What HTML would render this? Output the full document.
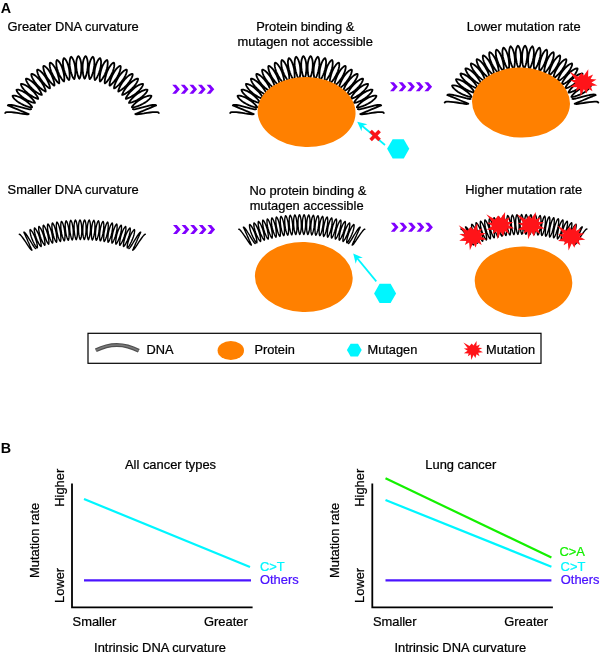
<!DOCTYPE html>
<html><head><meta charset="utf-8"><title>Figure</title>
<style>
html,body{margin:0;padding:0;background:#fff;}
svg{display:block;}
text{font-family:"Liberation Sans",sans-serif;stroke:#000;stroke-width:0.24px;}
</style></head>
<body>
<svg width="600" height="656" viewBox="0 0 600 656">
<rect width="600" height="656" fill="#fff"/>
<text transform="translate(0.8,13.4) scale(0.97,1)" font-size="14.8" font-weight="bold" style="stroke-width:0">A</text>
<text x="7.6" y="31.1" font-size="12.9">Greater DNA curvature</text>
<text x="305.3" y="31.2" font-size="12.9" text-anchor="middle">Protein binding &amp;</text>
<text x="305.2" y="45.6" font-size="12.9" text-anchor="middle">mutagen not accessible</text>
<text x="523.6" y="31.2" font-size="12.9" text-anchor="middle">Lower mutation rate</text>
<text x="7.6" y="194.4" font-size="12.9">Smaller DNA curvature</text>
<text x="307.9" y="194.5" font-size="12.9" text-anchor="middle">No protein binding &amp;</text>
<text x="306.6" y="210" font-size="12.9" text-anchor="middle">mutagen accessible</text>
<text x="523.7" y="194.4" font-size="12.9" text-anchor="middle">Higher mutation rate</text>
<path d="M78.4,56.1L78.9,56.4L79.6,57.6L80.3,59.3L80.9,61.7L81.3,64.4L81.4,67.3L81.3,70.2L81.1,73.0L80.7,75.3L80.2,77.1L79.7,78.3L79.4,78.7L79.0,78.3L78.5,77.2L77.8,75.4L77.2,73.1L76.7,70.4L76.3,67.5L76.2,64.6L76.3,61.9L76.7,59.5L77.3,57.7L77.9,56.5Z M85.6,56.1L86.1,56.5L86.7,57.7L87.3,59.5L87.7,61.9L87.8,64.6L87.7,67.5L87.3,70.4L86.8,73.1L86.2,75.4L85.5,77.2L85.0,78.3L84.6,78.7L84.3,78.3L83.8,77.1L83.3,75.3L82.9,73.0L82.7,70.2L82.6,67.3L82.7,64.4L83.1,61.7L83.7,59.3L84.4,57.6L85.1,56.4Z M71.1,56.7L71.6,57.1L72.4,58.1L73.3,59.8L74.1,62.1L74.8,64.7L75.2,67.6L75.4,70.6L75.3,73.3L75.1,75.7L74.8,77.5L74.5,78.7L74.2,79.1L73.8,78.8L73.1,77.8L72.3,76.1L71.5,73.8L70.7,71.2L70.1,68.3L69.7,65.4L69.6,62.7L69.8,60.3L70.2,58.4L70.7,57.2Z M92.9,56.7L93.3,57.2L93.8,58.4L94.2,60.3L94.4,62.7L94.3,65.4L93.9,68.3L93.3,71.2L92.5,73.8L91.7,76.1L90.9,77.8L90.2,78.8L89.8,79.1L89.5,78.7L89.2,77.5L88.9,75.7L88.7,73.3L88.6,70.6L88.8,67.6L89.2,64.7L89.9,62.1L90.7,59.8L91.6,58.1L92.4,57.1Z M63.9,58.1L64.5,58.3L65.4,59.3L66.4,60.9L67.4,63.1L68.3,65.7L69.0,68.5L69.4,71.4L69.6,74.2L69.7,76.6L69.5,78.4L69.3,79.6L69.0,80.1L68.6,79.8L67.8,78.8L66.9,77.2L65.9,75.0L64.9,72.5L64.0,69.7L63.3,66.8L63.0,64.1L62.9,61.7L63.2,59.8L63.6,58.5Z M100.1,58.1L100.4,58.5L100.8,59.8L101.1,61.7L101.0,64.1L100.7,66.8L100.0,69.7L99.1,72.5L98.1,75.0L97.1,77.2L96.2,78.8L95.4,79.8L95.0,80.1L94.7,79.6L94.5,78.4L94.3,76.6L94.4,74.2L94.6,71.4L95.0,68.5L95.7,65.7L96.6,63.1L97.6,60.9L98.6,59.3L99.5,58.3Z M56.9,60.0L57.5,60.2L58.5,61.1L59.7,62.6L60.9,64.7L62.0,67.2L62.9,70.0L63.6,72.8L64.1,75.5L64.3,77.9L64.3,79.8L64.2,81.0L64.0,81.5L63.5,81.2L62.7,80.3L61.6,78.8L60.4,76.8L59.1,74.3L58.0,71.6L57.1,68.8L56.5,66.1L56.3,63.7L56.3,61.8L56.6,60.5Z M107.1,60.0L107.4,60.5L107.7,61.8L107.7,63.7L107.5,66.1L106.9,68.8L106.0,71.6L104.9,74.3L103.6,76.8L102.4,78.8L101.3,80.3L100.5,81.2L100.0,81.5L99.8,81.0L99.7,79.8L99.7,77.9L99.9,75.5L100.4,72.8L101.1,70.0L102.0,67.2L103.1,64.7L104.3,62.6L105.5,61.1L106.5,60.2Z M50.1,62.6L50.7,62.8L51.8,63.5L53.1,64.9L54.5,66.9L55.8,69.3L57.0,72.0L57.9,74.8L58.6,77.4L59.1,79.8L59.3,81.6L59.3,82.9L59.1,83.3L58.6,83.1L57.7,82.3L56.5,80.9L55.1,79.0L53.6,76.6L52.3,74.0L51.1,71.3L50.3,68.7L49.8,66.4L49.7,64.5L49.8,63.1Z M113.9,62.6L114.2,63.1L114.3,64.5L114.2,66.4L113.7,68.7L112.9,71.3L111.7,74.0L110.4,76.6L108.9,79.0L107.5,80.9L106.3,82.3L105.4,83.1L104.9,83.3L104.7,82.9L104.7,81.6L104.9,79.8L105.4,77.4L106.1,74.8L107.0,72.0L108.2,69.3L109.5,66.9L110.9,64.9L112.2,63.5L113.3,62.8Z M43.6,65.8L44.2,65.9L45.3,66.6L46.7,67.9L48.3,69.7L49.8,72.0L51.2,74.5L52.4,77.2L53.4,79.8L54.1,82.1L54.4,83.9L54.5,85.1L54.4,85.6L53.9,85.5L52.9,84.7L51.6,83.4L50.0,81.6L48.3,79.4L46.7,77.0L45.4,74.4L44.3,71.9L43.6,69.6L43.3,67.7L43.3,66.4Z M120.4,65.8L120.7,66.4L120.7,67.7L120.4,69.6L119.7,71.9L118.6,74.4L117.3,77.0L115.7,79.4L114.0,81.6L112.4,83.4L111.1,84.7L110.1,85.5L109.6,85.6L109.5,85.1L109.6,83.9L109.9,82.1L110.6,79.8L111.6,77.2L112.8,74.5L114.2,72.0L115.7,69.7L117.3,67.9L118.7,66.6L119.8,65.9Z M37.3,69.6L37.9,69.6L39.1,70.2L40.7,71.3L42.4,73.0L44.1,75.1L45.8,77.6L47.2,80.1L48.4,82.6L49.3,84.8L49.8,86.6L50.0,87.8L49.9,88.4L49.4,88.2L48.3,87.6L46.9,86.4L45.2,84.8L43.3,82.7L41.5,80.4L39.9,78.0L38.6,75.6L37.7,73.3L37.2,71.5L37.1,70.2Z M126.7,69.6L126.9,70.2L126.8,71.5L126.3,73.3L125.4,75.6L124.1,78.0L122.5,80.4L120.7,82.7L118.8,84.8L117.1,86.4L115.7,87.6L114.6,88.2L114.1,88.4L114.0,87.8L114.2,86.6L114.7,84.8L115.6,82.6L116.8,80.1L118.2,77.6L119.9,75.1L121.6,73.0L123.3,71.3L124.9,70.2L126.1,69.6Z M31.5,73.9L32.1,73.9L33.3,74.4L35.0,75.4L36.8,76.9L38.7,78.8L40.6,81.1L42.3,83.5L43.7,85.9L44.7,88.0L45.4,89.7L45.7,90.9L45.7,91.5L45.2,91.4L44.1,90.8L42.5,89.8L40.6,88.3L38.6,86.5L36.6,84.3L34.8,82.0L33.3,79.8L32.2,77.6L31.5,75.8L31.3,74.5Z M132.5,73.9L132.7,74.5L132.5,75.8L131.8,77.6L130.7,79.8L129.2,82.0L127.4,84.3L125.4,86.5L123.4,88.3L121.5,89.8L119.9,90.8L118.8,91.4L118.3,91.5L118.3,90.9L118.6,89.7L119.3,88.0L120.3,85.9L121.7,83.5L123.4,81.1L125.3,78.8L127.2,76.9L129.0,75.4L130.7,74.4L131.9,73.9Z M26.0,78.7L26.6,78.7L27.9,79.0L29.6,79.9L31.6,81.2L33.7,83.0L35.8,85.1L37.6,87.3L39.2,89.6L40.5,91.6L41.3,93.3L41.8,94.4L41.8,94.9L41.3,94.9L40.1,94.5L38.5,93.6L36.5,92.3L34.3,90.6L32.1,88.7L30.1,86.5L28.3,84.4L27.1,82.4L26.3,80.6L25.9,79.3Z M138.0,78.7L138.1,79.3L137.7,80.6L136.9,82.4L135.7,84.4L133.9,86.5L131.9,88.7L129.7,90.6L127.5,92.3L125.5,93.6L123.9,94.5L122.7,94.9L122.2,94.9L122.2,94.4L122.7,93.3L123.5,91.6L124.8,89.6L126.4,87.3L128.2,85.1L130.3,83.0L132.4,81.2L134.4,79.9L136.1,79.0L137.4,78.7Z M21.0,84.0L21.6,83.9L22.9,84.2L24.7,84.8L26.8,86.0L29.1,87.6L31.3,89.5L33.4,91.5L35.2,93.6L36.6,95.5L37.6,97.1L38.1,98.2L38.2,98.8L37.7,98.8L36.5,98.4L34.8,97.7L32.7,96.6L30.3,95.1L28.0,93.4L25.8,91.5L23.9,89.5L22.4,87.6L21.4,85.9L21.0,84.7Z M143.0,84.0L143.0,84.7L142.6,85.9L141.6,87.6L140.1,89.5L138.2,91.5L136.0,93.4L133.7,95.1L131.3,96.6L129.2,97.7L127.5,98.4L126.3,98.8L125.8,98.8L125.9,98.2L126.4,97.1L127.4,95.5L128.8,93.6L130.6,91.5L132.7,89.5L134.9,87.6L137.2,86.0L139.3,84.8L141.1,84.2L142.4,83.9Z M16.5,89.8L17.1,89.6L18.5,89.7L20.3,90.3L22.5,91.2L24.9,92.6L27.3,94.3L29.5,96.1L31.5,98.0L33.1,99.8L34.2,101.3L34.9,102.4L35.0,102.9L34.5,102.9L33.2,102.7L31.5,102.1L29.3,101.2L26.8,100.0L24.3,98.4L21.9,96.7L19.9,94.9L18.2,93.2L17.1,91.6L16.6,90.4Z M147.5,89.8L147.4,90.4L146.9,91.6L145.8,93.2L144.1,94.9L142.1,96.7L139.7,98.4L137.2,100.0L134.7,101.2L132.5,102.1L130.8,102.7L129.5,102.9L129.0,102.9L129.1,102.4L129.8,101.3L130.9,99.8L132.5,98.0L134.5,96.1L136.7,94.3L139.1,92.6L141.5,91.2L143.7,90.3L145.5,89.7L146.9,89.6Z M12.6,95.9L13.2,95.7L14.5,95.7L16.4,96.0L18.7,96.8L21.2,97.9L23.7,99.4L26.1,101.1L28.3,102.8L30.0,104.4L31.3,105.8L32.0,106.8L32.1,107.3L31.6,107.4L30.4,107.3L28.6,106.8L26.3,106.1L23.7,105.1L21.1,103.8L18.6,102.4L16.4,100.7L14.6,99.1L13.3,97.7L12.7,96.5Z M151.4,95.9L151.3,96.5L150.7,97.7L149.4,99.1L147.6,100.7L145.4,102.4L142.9,103.8L140.3,105.1L137.7,106.1L135.4,106.8L133.6,107.3L132.4,107.4L131.9,107.3L132.0,106.8L132.7,105.8L134.0,104.4L135.7,102.8L137.9,101.1L140.3,99.4L142.8,97.9L145.3,96.8L147.6,96.0L149.5,95.7L150.8,95.7Z M158.8,113.0L158.3,112.4L157.0,112.1L155.1,112.1L152.7,112.2L149.9,112.5L146.9,112.9L144.0,113.4L141.2,113.8L138.9,114.2L137.0,114.4L135.8,114.3L135.2,114.0L135.6,113.9L136.6,113.5L138.3,112.8L140.5,111.9L143.0,110.9L145.7,109.7L148.4,108.6L150.9,107.6L153.1,106.7L154.7,106.0L155.8,105.6L156.2,105.5 M156.1,105.4L155.5,105.0L154.2,104.9L152.4,105.0L150.0,105.4L147.3,106.1L144.4,106.8L141.5,107.6L138.8,108.3L136.5,108.9L134.7,109.3L133.5,109.4L132.9,109.2 M5.2,113.0L5.7,112.4L7.0,112.1L8.9,112.1L11.3,112.2L14.1,112.5L17.1,112.9L20.0,113.4L22.8,113.8L25.1,114.2L27.0,114.4L28.2,114.3L28.8,114.0L28.4,113.9L27.4,113.5L25.7,112.8L23.5,111.9L21.0,110.9L18.3,109.7L15.6,108.6L13.1,107.6L10.9,106.7L9.3,106.0L8.2,105.6L7.8,105.5 M7.9,105.4L8.5,105.0L9.8,104.9L11.6,105.0L14.0,105.4L16.7,106.1L19.6,106.8L22.5,107.6L25.2,108.3L27.5,108.9L29.3,109.3L30.5,109.4L31.1,109.2" fill="none" stroke="#000" stroke-width="1.8" stroke-linejoin="round" stroke-linecap="round"/>
<polygon points="172.20,84.70 176.00,84.70 179.90,89.20 176.00,93.70 172.20,93.70 176.10,89.20" fill="#8000FF"/>
<polygon points="180.80,84.70 184.60,84.70 188.50,89.20 184.60,93.70 180.80,93.70 184.70,89.20" fill="#8000FF"/>
<polygon points="189.40,84.70 193.20,84.70 197.10,89.20 193.20,93.70 189.40,93.70 193.30,89.20" fill="#8000FF"/>
<polygon points="198.00,84.70 201.80,84.70 205.70,89.20 201.80,93.70 198.00,93.70 201.90,89.20" fill="#8000FF"/>
<polygon points="206.60,84.70 210.40,84.70 214.30,89.20 210.40,93.70 206.60,93.70 210.50,89.20" fill="#8000FF"/>
<g transform="translate(225,0)"><path d="M78.4,56.1L78.9,56.4L79.6,57.6L80.3,59.3L80.9,61.7L81.3,64.4L81.4,67.3L81.3,70.2L81.1,73.0L80.7,75.3L80.2,77.1L79.7,78.3L79.4,78.7L79.0,78.3L78.5,77.2L77.8,75.4L77.2,73.1L76.7,70.4L76.3,67.5L76.2,64.6L76.3,61.9L76.7,59.5L77.3,57.7L77.9,56.5Z M85.6,56.1L86.1,56.5L86.7,57.7L87.3,59.5L87.7,61.9L87.8,64.6L87.7,67.5L87.3,70.4L86.8,73.1L86.2,75.4L85.5,77.2L85.0,78.3L84.6,78.7L84.3,78.3L83.8,77.1L83.3,75.3L82.9,73.0L82.7,70.2L82.6,67.3L82.7,64.4L83.1,61.7L83.7,59.3L84.4,57.6L85.1,56.4Z M71.1,56.7L71.6,57.1L72.4,58.1L73.3,59.8L74.1,62.1L74.8,64.7L75.2,67.6L75.4,70.6L75.3,73.3L75.1,75.7L74.8,77.5L74.5,78.7L74.2,79.1L73.8,78.8L73.1,77.8L72.3,76.1L71.5,73.8L70.7,71.2L70.1,68.3L69.7,65.4L69.6,62.7L69.8,60.3L70.2,58.4L70.7,57.2Z M92.9,56.7L93.3,57.2L93.8,58.4L94.2,60.3L94.4,62.7L94.3,65.4L93.9,68.3L93.3,71.2L92.5,73.8L91.7,76.1L90.9,77.8L90.2,78.8L89.8,79.1L89.5,78.7L89.2,77.5L88.9,75.7L88.7,73.3L88.6,70.6L88.8,67.6L89.2,64.7L89.9,62.1L90.7,59.8L91.6,58.1L92.4,57.1Z M63.9,58.1L64.5,58.3L65.4,59.3L66.4,60.9L67.4,63.1L68.3,65.7L69.0,68.5L69.4,71.4L69.6,74.2L69.7,76.6L69.5,78.4L69.3,79.6L69.0,80.1L68.6,79.8L67.8,78.8L66.9,77.2L65.9,75.0L64.9,72.5L64.0,69.7L63.3,66.8L63.0,64.1L62.9,61.7L63.2,59.8L63.6,58.5Z M100.1,58.1L100.4,58.5L100.8,59.8L101.1,61.7L101.0,64.1L100.7,66.8L100.0,69.7L99.1,72.5L98.1,75.0L97.1,77.2L96.2,78.8L95.4,79.8L95.0,80.1L94.7,79.6L94.5,78.4L94.3,76.6L94.4,74.2L94.6,71.4L95.0,68.5L95.7,65.7L96.6,63.1L97.6,60.9L98.6,59.3L99.5,58.3Z M56.9,60.0L57.5,60.2L58.5,61.1L59.7,62.6L60.9,64.7L62.0,67.2L62.9,70.0L63.6,72.8L64.1,75.5L64.3,77.9L64.3,79.8L64.2,81.0L64.0,81.5L63.5,81.2L62.7,80.3L61.6,78.8L60.4,76.8L59.1,74.3L58.0,71.6L57.1,68.8L56.5,66.1L56.3,63.7L56.3,61.8L56.6,60.5Z M107.1,60.0L107.4,60.5L107.7,61.8L107.7,63.7L107.5,66.1L106.9,68.8L106.0,71.6L104.9,74.3L103.6,76.8L102.4,78.8L101.3,80.3L100.5,81.2L100.0,81.5L99.8,81.0L99.7,79.8L99.7,77.9L99.9,75.5L100.4,72.8L101.1,70.0L102.0,67.2L103.1,64.7L104.3,62.6L105.5,61.1L106.5,60.2Z M50.1,62.6L50.7,62.8L51.8,63.5L53.1,64.9L54.5,66.9L55.8,69.3L57.0,72.0L57.9,74.8L58.6,77.4L59.1,79.8L59.3,81.6L59.3,82.9L59.1,83.3L58.6,83.1L57.7,82.3L56.5,80.9L55.1,79.0L53.6,76.6L52.3,74.0L51.1,71.3L50.3,68.7L49.8,66.4L49.7,64.5L49.8,63.1Z M113.9,62.6L114.2,63.1L114.3,64.5L114.2,66.4L113.7,68.7L112.9,71.3L111.7,74.0L110.4,76.6L108.9,79.0L107.5,80.9L106.3,82.3L105.4,83.1L104.9,83.3L104.7,82.9L104.7,81.6L104.9,79.8L105.4,77.4L106.1,74.8L107.0,72.0L108.2,69.3L109.5,66.9L110.9,64.9L112.2,63.5L113.3,62.8Z M43.6,65.8L44.2,65.9L45.3,66.6L46.7,67.9L48.3,69.7L49.8,72.0L51.2,74.5L52.4,77.2L53.4,79.8L54.1,82.1L54.4,83.9L54.5,85.1L54.4,85.6L53.9,85.5L52.9,84.7L51.6,83.4L50.0,81.6L48.3,79.4L46.7,77.0L45.4,74.4L44.3,71.9L43.6,69.6L43.3,67.7L43.3,66.4Z M120.4,65.8L120.7,66.4L120.7,67.7L120.4,69.6L119.7,71.9L118.6,74.4L117.3,77.0L115.7,79.4L114.0,81.6L112.4,83.4L111.1,84.7L110.1,85.5L109.6,85.6L109.5,85.1L109.6,83.9L109.9,82.1L110.6,79.8L111.6,77.2L112.8,74.5L114.2,72.0L115.7,69.7L117.3,67.9L118.7,66.6L119.8,65.9Z M37.3,69.6L37.9,69.6L39.1,70.2L40.7,71.3L42.4,73.0L44.1,75.1L45.8,77.6L47.2,80.1L48.4,82.6L49.3,84.8L49.8,86.6L50.0,87.8L49.9,88.4L49.4,88.2L48.3,87.6L46.9,86.4L45.2,84.8L43.3,82.7L41.5,80.4L39.9,78.0L38.6,75.6L37.7,73.3L37.2,71.5L37.1,70.2Z M126.7,69.6L126.9,70.2L126.8,71.5L126.3,73.3L125.4,75.6L124.1,78.0L122.5,80.4L120.7,82.7L118.8,84.8L117.1,86.4L115.7,87.6L114.6,88.2L114.1,88.4L114.0,87.8L114.2,86.6L114.7,84.8L115.6,82.6L116.8,80.1L118.2,77.6L119.9,75.1L121.6,73.0L123.3,71.3L124.9,70.2L126.1,69.6Z M31.5,73.9L32.1,73.9L33.3,74.4L35.0,75.4L36.8,76.9L38.7,78.8L40.6,81.1L42.3,83.5L43.7,85.9L44.7,88.0L45.4,89.7L45.7,90.9L45.7,91.5L45.2,91.4L44.1,90.8L42.5,89.8L40.6,88.3L38.6,86.5L36.6,84.3L34.8,82.0L33.3,79.8L32.2,77.6L31.5,75.8L31.3,74.5Z M132.5,73.9L132.7,74.5L132.5,75.8L131.8,77.6L130.7,79.8L129.2,82.0L127.4,84.3L125.4,86.5L123.4,88.3L121.5,89.8L119.9,90.8L118.8,91.4L118.3,91.5L118.3,90.9L118.6,89.7L119.3,88.0L120.3,85.9L121.7,83.5L123.4,81.1L125.3,78.8L127.2,76.9L129.0,75.4L130.7,74.4L131.9,73.9Z M26.0,78.7L26.6,78.7L27.9,79.0L29.6,79.9L31.6,81.2L33.7,83.0L35.8,85.1L37.6,87.3L39.2,89.6L40.5,91.6L41.3,93.3L41.8,94.4L41.8,94.9L41.3,94.9L40.1,94.5L38.5,93.6L36.5,92.3L34.3,90.6L32.1,88.7L30.1,86.5L28.3,84.4L27.1,82.4L26.3,80.6L25.9,79.3Z M138.0,78.7L138.1,79.3L137.7,80.6L136.9,82.4L135.7,84.4L133.9,86.5L131.9,88.7L129.7,90.6L127.5,92.3L125.5,93.6L123.9,94.5L122.7,94.9L122.2,94.9L122.2,94.4L122.7,93.3L123.5,91.6L124.8,89.6L126.4,87.3L128.2,85.1L130.3,83.0L132.4,81.2L134.4,79.9L136.1,79.0L137.4,78.7Z M21.0,84.0L21.6,83.9L22.9,84.2L24.7,84.8L26.8,86.0L29.1,87.6L31.3,89.5L33.4,91.5L35.2,93.6L36.6,95.5L37.6,97.1L38.1,98.2L38.2,98.8L37.7,98.8L36.5,98.4L34.8,97.7L32.7,96.6L30.3,95.1L28.0,93.4L25.8,91.5L23.9,89.5L22.4,87.6L21.4,85.9L21.0,84.7Z M143.0,84.0L143.0,84.7L142.6,85.9L141.6,87.6L140.1,89.5L138.2,91.5L136.0,93.4L133.7,95.1L131.3,96.6L129.2,97.7L127.5,98.4L126.3,98.8L125.8,98.8L125.9,98.2L126.4,97.1L127.4,95.5L128.8,93.6L130.6,91.5L132.7,89.5L134.9,87.6L137.2,86.0L139.3,84.8L141.1,84.2L142.4,83.9Z M16.5,89.8L17.1,89.6L18.5,89.7L20.3,90.3L22.5,91.2L24.9,92.6L27.3,94.3L29.5,96.1L31.5,98.0L33.1,99.8L34.2,101.3L34.9,102.4L35.0,102.9L34.5,102.9L33.2,102.7L31.5,102.1L29.3,101.2L26.8,100.0L24.3,98.4L21.9,96.7L19.9,94.9L18.2,93.2L17.1,91.6L16.6,90.4Z M147.5,89.8L147.4,90.4L146.9,91.6L145.8,93.2L144.1,94.9L142.1,96.7L139.7,98.4L137.2,100.0L134.7,101.2L132.5,102.1L130.8,102.7L129.5,102.9L129.0,102.9L129.1,102.4L129.8,101.3L130.9,99.8L132.5,98.0L134.5,96.1L136.7,94.3L139.1,92.6L141.5,91.2L143.7,90.3L145.5,89.7L146.9,89.6Z M12.6,95.9L13.2,95.7L14.5,95.7L16.4,96.0L18.7,96.8L21.2,97.9L23.7,99.4L26.1,101.1L28.3,102.8L30.0,104.4L31.3,105.8L32.0,106.8L32.1,107.3L31.6,107.4L30.4,107.3L28.6,106.8L26.3,106.1L23.7,105.1L21.1,103.8L18.6,102.4L16.4,100.7L14.6,99.1L13.3,97.7L12.7,96.5Z M151.4,95.9L151.3,96.5L150.7,97.7L149.4,99.1L147.6,100.7L145.4,102.4L142.9,103.8L140.3,105.1L137.7,106.1L135.4,106.8L133.6,107.3L132.4,107.4L131.9,107.3L132.0,106.8L132.7,105.8L134.0,104.4L135.7,102.8L137.9,101.1L140.3,99.4L142.8,97.9L145.3,96.8L147.6,96.0L149.5,95.7L150.8,95.7Z M158.8,113.0L158.3,112.4L157.0,112.1L155.1,112.1L152.7,112.2L149.9,112.5L146.9,112.9L144.0,113.4L141.2,113.8L138.9,114.2L137.0,114.4L135.8,114.3L135.2,114.0L135.6,113.9L136.6,113.5L138.3,112.8L140.5,111.9L143.0,110.9L145.7,109.7L148.4,108.6L150.9,107.6L153.1,106.7L154.7,106.0L155.8,105.6L156.2,105.5 M156.1,105.4L155.5,105.0L154.2,104.9L152.4,105.0L150.0,105.4L147.3,106.1L144.4,106.8L141.5,107.6L138.8,108.3L136.5,108.9L134.7,109.3L133.5,109.4L132.9,109.2 M5.2,113.0L5.7,112.4L7.0,112.1L8.9,112.1L11.3,112.2L14.1,112.5L17.1,112.9L20.0,113.4L22.8,113.8L25.1,114.2L27.0,114.4L28.2,114.3L28.8,114.0L28.4,113.9L27.4,113.5L25.7,112.8L23.5,111.9L21.0,110.9L18.3,109.7L15.6,108.6L13.1,107.6L10.9,106.7L9.3,106.0L8.2,105.6L7.8,105.5 M7.9,105.4L8.5,105.0L9.8,104.9L11.6,105.0L14.0,105.4L16.7,106.1L19.6,106.8L22.5,107.6L25.2,108.3L27.5,108.9L29.3,109.3L30.5,109.4L31.1,109.2" fill="none" stroke="#000" stroke-width="1.8" stroke-linejoin="round" stroke-linecap="round"/></g>
<ellipse cx="306.6" cy="112" rx="49" ry="35" fill="#FF8000" transform="rotate(2 306.6 112)"/>
<polygon points="390.00,82.20 393.80,82.20 397.70,86.70 393.80,91.20 390.00,91.20 393.90,86.70" fill="#8000FF"/>
<polygon points="398.60,82.20 402.40,82.20 406.30,86.70 402.40,91.20 398.60,91.20 402.50,86.70" fill="#8000FF"/>
<polygon points="407.20,82.20 411.00,82.20 414.90,86.70 411.00,91.20 407.20,91.20 411.10,86.70" fill="#8000FF"/>
<polygon points="415.80,82.20 419.60,82.20 423.50,86.70 419.60,91.20 415.80,91.20 419.70,86.70" fill="#8000FF"/>
<polygon points="424.40,82.20 428.20,82.20 432.10,86.70 428.20,91.20 424.40,91.20 428.30,86.70" fill="#8000FF"/>
<g transform="translate(439.5,-10.4)"><path d="M78.4,56.1L78.9,56.4L79.6,57.6L80.3,59.3L80.9,61.7L81.3,64.4L81.4,67.3L81.3,70.2L81.1,73.0L80.7,75.3L80.2,77.1L79.7,78.3L79.4,78.7L79.0,78.3L78.5,77.2L77.8,75.4L77.2,73.1L76.7,70.4L76.3,67.5L76.2,64.6L76.3,61.9L76.7,59.5L77.3,57.7L77.9,56.5Z M85.6,56.1L86.1,56.5L86.7,57.7L87.3,59.5L87.7,61.9L87.8,64.6L87.7,67.5L87.3,70.4L86.8,73.1L86.2,75.4L85.5,77.2L85.0,78.3L84.6,78.7L84.3,78.3L83.8,77.1L83.3,75.3L82.9,73.0L82.7,70.2L82.6,67.3L82.7,64.4L83.1,61.7L83.7,59.3L84.4,57.6L85.1,56.4Z M71.1,56.7L71.6,57.1L72.4,58.1L73.3,59.8L74.1,62.1L74.8,64.7L75.2,67.6L75.4,70.6L75.3,73.3L75.1,75.7L74.8,77.5L74.5,78.7L74.2,79.1L73.8,78.8L73.1,77.8L72.3,76.1L71.5,73.8L70.7,71.2L70.1,68.3L69.7,65.4L69.6,62.7L69.8,60.3L70.2,58.4L70.7,57.2Z M92.9,56.7L93.3,57.2L93.8,58.4L94.2,60.3L94.4,62.7L94.3,65.4L93.9,68.3L93.3,71.2L92.5,73.8L91.7,76.1L90.9,77.8L90.2,78.8L89.8,79.1L89.5,78.7L89.2,77.5L88.9,75.7L88.7,73.3L88.6,70.6L88.8,67.6L89.2,64.7L89.9,62.1L90.7,59.8L91.6,58.1L92.4,57.1Z M63.9,58.1L64.5,58.3L65.4,59.3L66.4,60.9L67.4,63.1L68.3,65.7L69.0,68.5L69.4,71.4L69.6,74.2L69.7,76.6L69.5,78.4L69.3,79.6L69.0,80.1L68.6,79.8L67.8,78.8L66.9,77.2L65.9,75.0L64.9,72.5L64.0,69.7L63.3,66.8L63.0,64.1L62.9,61.7L63.2,59.8L63.6,58.5Z M100.1,58.1L100.4,58.5L100.8,59.8L101.1,61.7L101.0,64.1L100.7,66.8L100.0,69.7L99.1,72.5L98.1,75.0L97.1,77.2L96.2,78.8L95.4,79.8L95.0,80.1L94.7,79.6L94.5,78.4L94.3,76.6L94.4,74.2L94.6,71.4L95.0,68.5L95.7,65.7L96.6,63.1L97.6,60.9L98.6,59.3L99.5,58.3Z M56.9,60.0L57.5,60.2L58.5,61.1L59.7,62.6L60.9,64.7L62.0,67.2L62.9,70.0L63.6,72.8L64.1,75.5L64.3,77.9L64.3,79.8L64.2,81.0L64.0,81.5L63.5,81.2L62.7,80.3L61.6,78.8L60.4,76.8L59.1,74.3L58.0,71.6L57.1,68.8L56.5,66.1L56.3,63.7L56.3,61.8L56.6,60.5Z M107.1,60.0L107.4,60.5L107.7,61.8L107.7,63.7L107.5,66.1L106.9,68.8L106.0,71.6L104.9,74.3L103.6,76.8L102.4,78.8L101.3,80.3L100.5,81.2L100.0,81.5L99.8,81.0L99.7,79.8L99.7,77.9L99.9,75.5L100.4,72.8L101.1,70.0L102.0,67.2L103.1,64.7L104.3,62.6L105.5,61.1L106.5,60.2Z M50.1,62.6L50.7,62.8L51.8,63.5L53.1,64.9L54.5,66.9L55.8,69.3L57.0,72.0L57.9,74.8L58.6,77.4L59.1,79.8L59.3,81.6L59.3,82.9L59.1,83.3L58.6,83.1L57.7,82.3L56.5,80.9L55.1,79.0L53.6,76.6L52.3,74.0L51.1,71.3L50.3,68.7L49.8,66.4L49.7,64.5L49.8,63.1Z M113.9,62.6L114.2,63.1L114.3,64.5L114.2,66.4L113.7,68.7L112.9,71.3L111.7,74.0L110.4,76.6L108.9,79.0L107.5,80.9L106.3,82.3L105.4,83.1L104.9,83.3L104.7,82.9L104.7,81.6L104.9,79.8L105.4,77.4L106.1,74.8L107.0,72.0L108.2,69.3L109.5,66.9L110.9,64.9L112.2,63.5L113.3,62.8Z M43.6,65.8L44.2,65.9L45.3,66.6L46.7,67.9L48.3,69.7L49.8,72.0L51.2,74.5L52.4,77.2L53.4,79.8L54.1,82.1L54.4,83.9L54.5,85.1L54.4,85.6L53.9,85.5L52.9,84.7L51.6,83.4L50.0,81.6L48.3,79.4L46.7,77.0L45.4,74.4L44.3,71.9L43.6,69.6L43.3,67.7L43.3,66.4Z M120.4,65.8L120.7,66.4L120.7,67.7L120.4,69.6L119.7,71.9L118.6,74.4L117.3,77.0L115.7,79.4L114.0,81.6L112.4,83.4L111.1,84.7L110.1,85.5L109.6,85.6L109.5,85.1L109.6,83.9L109.9,82.1L110.6,79.8L111.6,77.2L112.8,74.5L114.2,72.0L115.7,69.7L117.3,67.9L118.7,66.6L119.8,65.9Z M37.3,69.6L37.9,69.6L39.1,70.2L40.7,71.3L42.4,73.0L44.1,75.1L45.8,77.6L47.2,80.1L48.4,82.6L49.3,84.8L49.8,86.6L50.0,87.8L49.9,88.4L49.4,88.2L48.3,87.6L46.9,86.4L45.2,84.8L43.3,82.7L41.5,80.4L39.9,78.0L38.6,75.6L37.7,73.3L37.2,71.5L37.1,70.2Z M126.7,69.6L126.9,70.2L126.8,71.5L126.3,73.3L125.4,75.6L124.1,78.0L122.5,80.4L120.7,82.7L118.8,84.8L117.1,86.4L115.7,87.6L114.6,88.2L114.1,88.4L114.0,87.8L114.2,86.6L114.7,84.8L115.6,82.6L116.8,80.1L118.2,77.6L119.9,75.1L121.6,73.0L123.3,71.3L124.9,70.2L126.1,69.6Z M31.5,73.9L32.1,73.9L33.3,74.4L35.0,75.4L36.8,76.9L38.7,78.8L40.6,81.1L42.3,83.5L43.7,85.9L44.7,88.0L45.4,89.7L45.7,90.9L45.7,91.5L45.2,91.4L44.1,90.8L42.5,89.8L40.6,88.3L38.6,86.5L36.6,84.3L34.8,82.0L33.3,79.8L32.2,77.6L31.5,75.8L31.3,74.5Z M132.5,73.9L132.7,74.5L132.5,75.8L131.8,77.6L130.7,79.8L129.2,82.0L127.4,84.3L125.4,86.5L123.4,88.3L121.5,89.8L119.9,90.8L118.8,91.4L118.3,91.5L118.3,90.9L118.6,89.7L119.3,88.0L120.3,85.9L121.7,83.5L123.4,81.1L125.3,78.8L127.2,76.9L129.0,75.4L130.7,74.4L131.9,73.9Z M26.0,78.7L26.6,78.7L27.9,79.0L29.6,79.9L31.6,81.2L33.7,83.0L35.8,85.1L37.6,87.3L39.2,89.6L40.5,91.6L41.3,93.3L41.8,94.4L41.8,94.9L41.3,94.9L40.1,94.5L38.5,93.6L36.5,92.3L34.3,90.6L32.1,88.7L30.1,86.5L28.3,84.4L27.1,82.4L26.3,80.6L25.9,79.3Z M138.0,78.7L138.1,79.3L137.7,80.6L136.9,82.4L135.7,84.4L133.9,86.5L131.9,88.7L129.7,90.6L127.5,92.3L125.5,93.6L123.9,94.5L122.7,94.9L122.2,94.9L122.2,94.4L122.7,93.3L123.5,91.6L124.8,89.6L126.4,87.3L128.2,85.1L130.3,83.0L132.4,81.2L134.4,79.9L136.1,79.0L137.4,78.7Z M21.0,84.0L21.6,83.9L22.9,84.2L24.7,84.8L26.8,86.0L29.1,87.6L31.3,89.5L33.4,91.5L35.2,93.6L36.6,95.5L37.6,97.1L38.1,98.2L38.2,98.8L37.7,98.8L36.5,98.4L34.8,97.7L32.7,96.6L30.3,95.1L28.0,93.4L25.8,91.5L23.9,89.5L22.4,87.6L21.4,85.9L21.0,84.7Z M143.0,84.0L143.0,84.7L142.6,85.9L141.6,87.6L140.1,89.5L138.2,91.5L136.0,93.4L133.7,95.1L131.3,96.6L129.2,97.7L127.5,98.4L126.3,98.8L125.8,98.8L125.9,98.2L126.4,97.1L127.4,95.5L128.8,93.6L130.6,91.5L132.7,89.5L134.9,87.6L137.2,86.0L139.3,84.8L141.1,84.2L142.4,83.9Z M16.5,89.8L17.1,89.6L18.5,89.7L20.3,90.3L22.5,91.2L24.9,92.6L27.3,94.3L29.5,96.1L31.5,98.0L33.1,99.8L34.2,101.3L34.9,102.4L35.0,102.9L34.5,102.9L33.2,102.7L31.5,102.1L29.3,101.2L26.8,100.0L24.3,98.4L21.9,96.7L19.9,94.9L18.2,93.2L17.1,91.6L16.6,90.4Z M147.5,89.8L147.4,90.4L146.9,91.6L145.8,93.2L144.1,94.9L142.1,96.7L139.7,98.4L137.2,100.0L134.7,101.2L132.5,102.1L130.8,102.7L129.5,102.9L129.0,102.9L129.1,102.4L129.8,101.3L130.9,99.8L132.5,98.0L134.5,96.1L136.7,94.3L139.1,92.6L141.5,91.2L143.7,90.3L145.5,89.7L146.9,89.6Z M12.6,95.9L13.2,95.7L14.5,95.7L16.4,96.0L18.7,96.8L21.2,97.9L23.7,99.4L26.1,101.1L28.3,102.8L30.0,104.4L31.3,105.8L32.0,106.8L32.1,107.3L31.6,107.4L30.4,107.3L28.6,106.8L26.3,106.1L23.7,105.1L21.1,103.8L18.6,102.4L16.4,100.7L14.6,99.1L13.3,97.7L12.7,96.5Z M151.4,95.9L151.3,96.5L150.7,97.7L149.4,99.1L147.6,100.7L145.4,102.4L142.9,103.8L140.3,105.1L137.7,106.1L135.4,106.8L133.6,107.3L132.4,107.4L131.9,107.3L132.0,106.8L132.7,105.8L134.0,104.4L135.7,102.8L137.9,101.1L140.3,99.4L142.8,97.9L145.3,96.8L147.6,96.0L149.5,95.7L150.8,95.7Z M158.8,113.0L158.3,112.4L157.0,112.1L155.1,112.1L152.7,112.2L149.9,112.5L146.9,112.9L144.0,113.4L141.2,113.8L138.9,114.2L137.0,114.4L135.8,114.3L135.2,114.0L135.6,113.9L136.6,113.5L138.3,112.8L140.5,111.9L143.0,110.9L145.7,109.7L148.4,108.6L150.9,107.6L153.1,106.7L154.7,106.0L155.8,105.6L156.2,105.5 M156.1,105.4L155.5,105.0L154.2,104.9L152.4,105.0L150.0,105.4L147.3,106.1L144.4,106.8L141.5,107.6L138.8,108.3L136.5,108.9L134.7,109.3L133.5,109.4L132.9,109.2 M5.2,113.0L5.7,112.4L7.0,112.1L8.9,112.1L11.3,112.2L14.1,112.5L17.1,112.9L20.0,113.4L22.8,113.8L25.1,114.2L27.0,114.4L28.2,114.3L28.8,114.0L28.4,113.9L27.4,113.5L25.7,112.8L23.5,111.9L21.0,110.9L18.3,109.7L15.6,108.6L13.1,107.6L10.9,106.7L9.3,106.0L8.2,105.6L7.8,105.5 M7.9,105.4L8.5,105.0L9.8,104.9L11.6,105.0L14.0,105.4L16.7,106.1L19.6,106.8L22.5,107.6L25.2,108.3L27.5,108.9L29.3,109.3L30.5,109.4L31.1,109.2" fill="none" stroke="#000" stroke-width="1.8" stroke-linejoin="round" stroke-linecap="round"/></g>
<ellipse cx="521" cy="102.6" rx="49" ry="35" fill="#FF8000" transform="rotate(2 521 102.6)"/>
<polygon points="581.4,72.9 583.9,75.6 588.3,69.2 588.1,76.7 593.1,74.5 590.6,79.0 596.5,79.5 591.5,82.4 597.4,85.6 590.6,86.1 592.5,91.2 588.1,88.4 586.5,93.6 583.9,89.2 580.7,96.5 579.9,88.7 575.7,91.2 577.1,87.3 570.1,87.0 575.4,83.3 570.1,80.1 575.7,79.9 569.5,71.5 578.2,76.7" fill="#FF1419"/>
<line x1="385.00" y1="145.00" x2="361.42" y2="125.23" stroke="#00F6FF" stroke-width="1.7"/><polygon points="357.20,121.70 367.44,124.28 362.18,125.88 361.53,131.33" fill="#00F6FF"/>
<polygon points="409.30,148.80 403.75,158.41 392.65,158.41 387.10,148.80 392.65,139.19 403.75,139.19" fill="#00F6FF"/>
<g stroke="#FA1419" stroke-width="3.6"><line x1="370.6" y1="130.9" x2="379.6" y2="139.9"/><line x1="379.6" y1="130.9" x2="370.6" y2="139.9"/></g>
<path d="M80.0,219.9L80.3,220.2L80.7,221.2L81.1,222.7L81.5,224.8L81.7,227.2L81.8,229.7L81.8,232.3L81.6,234.6L81.3,236.7L80.9,238.2L80.5,239.2L80.3,239.6L80.0,239.2L79.7,238.3L79.3,236.7L78.9,234.7L78.6,232.3L78.5,229.8L78.5,227.2L78.6,224.8L78.9,222.8L79.3,221.2L79.7,220.2Z M84.6,219.9L84.9,220.2L85.3,221.2L85.7,222.8L86.0,224.8L86.1,227.2L86.1,229.8L86.0,232.3L85.7,234.7L85.3,236.7L84.9,238.3L84.6,239.2L84.3,239.6L84.1,239.2L83.7,238.2L83.3,236.7L83.0,234.6L82.8,232.3L82.8,229.7L82.9,227.2L83.1,224.8L83.5,222.7L83.9,221.2L84.3,220.2Z M75.3,220.0L75.7,220.3L76.1,221.3L76.6,222.8L77.0,224.9L77.3,227.2L77.5,229.8L77.5,232.3L77.4,234.7L77.2,236.8L76.8,238.3L76.5,239.3L76.3,239.7L76.0,239.4L75.6,238.4L75.2,236.9L74.7,234.8L74.4,232.5L74.1,229.9L74.1,227.4L74.1,225.0L74.4,223.0L74.7,221.4L75.1,220.4Z M89.3,220.0L89.5,220.4L89.9,221.4L90.2,223.0L90.5,225.0L90.5,227.4L90.5,229.9L90.2,232.5L89.9,234.8L89.4,236.9L89.0,238.4L88.6,239.4L88.3,239.7L88.1,239.3L87.8,238.3L87.4,236.8L87.2,234.7L87.1,232.3L87.1,229.8L87.3,227.2L87.6,224.9L88.0,222.8L88.5,221.3L88.9,220.3Z M70.7,220.3L71.0,220.6L71.5,221.6L72.1,223.1L72.5,225.1L72.9,227.5L73.2,230.0L73.3,232.6L73.2,234.9L73.1,237.0L72.8,238.6L72.5,239.6L72.3,240.0L72.0,239.6L71.6,238.7L71.1,237.2L70.6,235.2L70.1,232.8L69.8,230.3L69.7,227.7L69.7,225.3L69.8,223.3L70.1,221.7L70.5,220.7Z M93.9,220.3L94.1,220.7L94.5,221.7L94.8,223.3L94.9,225.3L94.9,227.7L94.8,230.3L94.5,232.8L94.0,235.2L93.5,237.2L93.0,238.7L92.6,239.6L92.3,240.0L92.1,239.6L91.8,238.6L91.5,237.0L91.4,234.9L91.3,232.6L91.4,230.0L91.7,227.5L92.1,225.1L92.5,223.1L93.1,221.6L93.6,220.6Z M66.1,220.8L66.4,221.1L67.0,222.0L67.5,223.5L68.1,225.5L68.6,227.8L68.9,230.4L69.1,232.9L69.1,235.3L69.0,237.4L68.8,239.0L68.5,240.0L68.3,240.3L68.0,240.0L67.5,239.1L67.0,237.6L66.4,235.6L65.9,233.3L65.5,230.7L65.3,228.2L65.2,225.8L65.3,223.8L65.6,222.2L65.9,221.1Z M98.5,220.8L98.7,221.1L99.0,222.2L99.3,223.8L99.4,225.8L99.3,228.2L99.1,230.7L98.7,233.3L98.2,235.6L97.6,237.6L97.1,239.1L96.6,240.0L96.3,240.3L96.1,240.0L95.8,239.0L95.6,237.4L95.5,235.3L95.5,232.9L95.7,230.4L96.0,227.8L96.5,225.5L97.1,223.5L97.6,222.0L98.2,221.1Z M61.5,221.4L61.8,221.6L62.4,222.6L63.0,224.1L63.6,226.0L64.2,228.4L64.6,230.9L64.9,233.4L65.0,235.8L64.9,237.9L64.8,239.5L64.5,240.5L64.3,240.8L64.0,240.6L63.5,239.6L62.9,238.1L62.3,236.2L61.7,233.9L61.3,231.4L60.9,228.8L60.8,226.4L60.8,224.4L61.0,222.8L61.3,221.7Z M103.1,221.4L103.3,221.7L103.6,222.8L103.8,224.4L103.8,226.4L103.7,228.8L103.3,231.4L102.9,233.9L102.3,236.2L101.7,238.1L101.1,239.6L100.6,240.6L100.3,240.8L100.1,240.5L99.8,239.5L99.7,237.9L99.6,235.8L99.7,233.4L100.0,230.9L100.4,228.4L101.0,226.0L101.6,224.1L102.2,222.6L102.8,221.6Z M56.9,222.1L57.3,222.4L57.9,223.3L58.5,224.7L59.2,226.7L59.8,229.0L60.3,231.5L60.7,234.0L60.8,236.4L60.9,238.5L60.8,240.1L60.6,241.1L60.4,241.5L60.1,241.2L59.5,240.3L58.9,238.8L58.2,236.9L57.6,234.6L57.0,232.1L56.6,229.6L56.4,227.2L56.3,225.1L56.5,223.5L56.7,222.5Z M107.7,222.1L107.9,222.5L108.1,223.5L108.3,225.1L108.2,227.2L108.0,229.6L107.6,232.1L107.0,234.6L106.4,236.9L105.7,238.8L105.1,240.3L104.5,241.2L104.2,241.5L104.0,241.1L103.8,240.1L103.7,238.5L103.8,236.4L103.9,234.0L104.3,231.5L104.8,229.0L105.4,226.7L106.1,224.7L106.7,223.3L107.3,222.4Z M52.4,223.0L52.7,223.2L53.3,224.1L54.1,225.6L54.8,227.5L55.5,229.8L56.1,232.3L56.5,234.8L56.7,237.2L56.8,239.2L56.8,240.8L56.6,241.9L56.5,242.3L56.1,242.0L55.6,241.1L54.9,239.6L54.1,237.7L53.4,235.4L52.8,233.0L52.3,230.5L52.0,228.1L51.9,226.0L52.0,224.4L52.2,223.4Z M112.2,223.0L112.4,223.4L112.6,224.4L112.7,226.0L112.6,228.1L112.3,230.5L111.8,233.0L111.2,235.4L110.5,237.7L109.7,239.6L109.0,241.1L108.5,242.0L108.1,242.3L108.0,241.9L107.8,240.8L107.8,239.2L107.9,237.2L108.1,234.8L108.5,232.3L109.1,229.8L109.8,227.5L110.5,225.6L111.3,224.1L111.9,223.2Z M47.9,224.0L48.2,224.3L48.9,225.1L49.6,226.6L50.4,228.5L51.2,230.7L51.8,233.2L52.3,235.7L52.7,238.1L52.8,240.1L52.8,241.7L52.7,242.8L52.6,243.1L52.2,242.9L51.6,242.0L50.9,240.6L50.1,238.7L49.3,236.4L48.6,234.0L48.0,231.5L47.6,229.1L47.5,227.1L47.5,225.5L47.7,224.4Z M116.7,224.0L116.9,224.4L117.1,225.5L117.1,227.1L117.0,229.1L116.6,231.5L116.0,234.0L115.3,236.4L114.5,238.7L113.7,240.6L113.0,242.0L112.4,242.9L112.0,243.1L111.9,242.8L111.8,241.7L111.8,240.1L111.9,238.1L112.3,235.7L112.8,233.2L113.4,230.7L114.2,228.5L115.0,226.6L115.7,225.1L116.4,224.3Z M43.4,225.2L43.7,225.4L44.4,226.3L45.2,227.7L46.1,229.6L46.9,231.8L47.7,234.2L48.2,236.7L48.6,239.1L48.9,241.1L48.9,242.7L48.8,243.8L48.7,244.2L48.3,243.9L47.7,243.1L46.9,241.7L46.1,239.8L45.2,237.6L44.4,235.1L43.8,232.7L43.3,230.3L43.1,228.3L43.1,226.7L43.2,225.6Z M121.2,225.2L121.4,225.6L121.5,226.7L121.5,228.3L121.3,230.3L120.8,232.7L120.2,235.1L119.4,237.6L118.5,239.8L117.7,241.7L116.9,243.1L116.3,243.9L115.9,244.2L115.8,243.8L115.7,242.7L115.7,241.1L116.0,239.1L116.4,236.7L116.9,234.2L117.7,231.8L118.5,229.6L119.4,227.7L120.2,226.3L120.9,225.4Z M38.9,226.5L39.3,226.7L40.0,227.6L40.9,228.9L41.8,230.8L42.7,233.0L43.5,235.4L44.2,237.9L44.6,240.2L44.9,242.3L45.0,243.9L45.0,244.9L44.8,245.3L44.5,245.1L43.9,244.2L43.0,242.9L42.1,241.0L41.1,238.8L40.3,236.4L39.6,234.0L39.0,231.6L38.7,229.6L38.7,228.0L38.8,226.9Z M125.7,226.5L125.8,226.9L125.9,228.0L125.9,229.6L125.6,231.6L125.0,234.0L124.3,236.4L123.5,238.8L122.5,241.0L121.6,242.9L120.7,244.2L120.1,245.1L119.8,245.3L119.6,244.9L119.6,243.9L119.7,242.3L120.0,240.2L120.4,237.9L121.1,235.4L121.9,233.0L122.8,230.8L123.7,228.9L124.6,227.6L125.3,226.7Z M34.5,228.0L34.9,228.2L35.6,229.0L36.5,230.3L37.5,232.2L38.5,234.3L39.4,236.7L40.1,239.2L40.7,241.5L41.0,243.5L41.2,245.1L41.2,246.2L41.0,246.6L40.7,246.3L40.0,245.5L39.1,244.2L38.2,242.4L37.1,240.2L36.2,237.8L35.4,235.4L34.8,233.1L34.4,231.1L34.3,229.5L34.4,228.4Z M130.1,228.0L130.2,228.4L130.3,229.5L130.2,231.1L129.8,233.1L129.2,235.4L128.4,237.8L127.5,240.2L126.4,242.4L125.5,244.2L124.6,245.5L123.9,246.3L123.6,246.6L123.4,246.2L123.4,245.1L123.6,243.5L123.9,241.5L124.5,239.2L125.2,236.7L126.1,234.3L127.1,232.2L128.1,230.3L129.0,229.0L129.7,228.2Z M30.2,229.6L30.6,229.8L31.3,230.6L32.3,231.9L33.3,233.7L34.3,235.8L35.3,238.2L36.1,240.6L36.8,242.9L37.2,244.9L37.4,246.5L37.4,247.5L37.3,247.9L36.9,247.7L36.2,246.9L35.3,245.6L34.3,243.8L33.2,241.7L32.2,239.4L31.3,237.0L30.6,234.7L30.2,232.7L30.0,231.1L30.0,230.0Z M134.4,229.6L134.6,230.0L134.6,231.1L134.4,232.7L134.0,234.7L133.3,237.0L132.4,239.4L131.4,241.7L130.3,243.8L129.3,245.6L128.4,246.9L127.7,247.7L127.3,247.9L127.2,247.5L127.2,246.5L127.4,244.9L127.8,242.9L128.5,240.6L129.3,238.2L130.3,235.8L131.3,233.7L132.3,231.9L133.3,230.6L134.0,229.8Z M145.3,234.3L144.8,234.4L144.0,235.1L142.9,236.4L141.7,238.0L140.3,240.0L138.8,242.1L137.4,244.3L136.1,246.3L134.9,248.0L133.9,249.3L133.1,250.0L132.7,250.2L132.8,249.8L133.2,249.0L133.8,247.5L134.7,245.7L135.6,243.5L136.7,241.2L137.7,238.8L138.7,236.7L139.5,234.8L140.2,233.4L140.6,232.5L140.7,232.2 M140.7,232.2L140.2,232.3L139.4,233.1L138.4,234.3L137.3,236.0L136.0,238.1L134.6,240.3L133.3,242.5L132.1,244.5L130.9,246.3L130.0,247.6L129.3,248.4L128.9,248.6 M19.3,234.3L19.8,234.4L20.6,235.1L21.7,236.4L22.9,238.0L24.3,240.0L25.8,242.1L27.2,244.3L28.5,246.3L29.7,248.0L30.7,249.3L31.5,250.0L31.9,250.2L31.8,249.8L31.4,249.0L30.8,247.5L29.9,245.7L29.0,243.5L27.9,241.2L26.9,238.8L25.9,236.7L25.1,234.8L24.4,233.4L24.0,232.5L23.9,232.2 M23.9,232.2L24.4,232.3L25.2,233.1L26.2,234.3L27.3,236.0L28.6,238.1L30.0,240.3L31.3,242.5L32.5,244.5L33.7,246.3L34.6,247.6L35.3,248.4L35.7,248.6" fill="none" stroke="#000" stroke-width="1.4" stroke-linejoin="round" stroke-linecap="round"/>
<polygon points="173.00,224.90 176.80,224.90 180.70,229.40 176.80,233.90 173.00,233.90 176.90,229.40" fill="#8000FF"/>
<polygon points="181.60,224.90 185.40,224.90 189.30,229.40 185.40,233.90 181.60,233.90 185.50,229.40" fill="#8000FF"/>
<polygon points="190.20,224.90 194.00,224.90 197.90,229.40 194.00,233.90 190.20,233.90 194.10,229.40" fill="#8000FF"/>
<polygon points="198.80,224.90 202.60,224.90 206.50,229.40 202.60,233.90 198.80,233.90 202.70,229.40" fill="#8000FF"/>
<polygon points="207.40,224.90 211.20,224.90 215.10,229.40 211.20,233.90 207.40,233.90 211.30,229.40" fill="#8000FF"/>
<g transform="translate(219.5,-5.1)"><path d="M80.0,219.9L80.3,220.2L80.7,221.2L81.1,222.7L81.5,224.8L81.7,227.2L81.8,229.7L81.8,232.3L81.6,234.6L81.3,236.7L80.9,238.2L80.5,239.2L80.3,239.6L80.0,239.2L79.7,238.3L79.3,236.7L78.9,234.7L78.6,232.3L78.5,229.8L78.5,227.2L78.6,224.8L78.9,222.8L79.3,221.2L79.7,220.2Z M84.6,219.9L84.9,220.2L85.3,221.2L85.7,222.8L86.0,224.8L86.1,227.2L86.1,229.8L86.0,232.3L85.7,234.7L85.3,236.7L84.9,238.3L84.6,239.2L84.3,239.6L84.1,239.2L83.7,238.2L83.3,236.7L83.0,234.6L82.8,232.3L82.8,229.7L82.9,227.2L83.1,224.8L83.5,222.7L83.9,221.2L84.3,220.2Z M75.3,220.0L75.7,220.3L76.1,221.3L76.6,222.8L77.0,224.9L77.3,227.2L77.5,229.8L77.5,232.3L77.4,234.7L77.2,236.8L76.8,238.3L76.5,239.3L76.3,239.7L76.0,239.4L75.6,238.4L75.2,236.9L74.7,234.8L74.4,232.5L74.1,229.9L74.1,227.4L74.1,225.0L74.4,223.0L74.7,221.4L75.1,220.4Z M89.3,220.0L89.5,220.4L89.9,221.4L90.2,223.0L90.5,225.0L90.5,227.4L90.5,229.9L90.2,232.5L89.9,234.8L89.4,236.9L89.0,238.4L88.6,239.4L88.3,239.7L88.1,239.3L87.8,238.3L87.4,236.8L87.2,234.7L87.1,232.3L87.1,229.8L87.3,227.2L87.6,224.9L88.0,222.8L88.5,221.3L88.9,220.3Z M70.7,220.3L71.0,220.6L71.5,221.6L72.1,223.1L72.5,225.1L72.9,227.5L73.2,230.0L73.3,232.6L73.2,234.9L73.1,237.0L72.8,238.6L72.5,239.6L72.3,240.0L72.0,239.6L71.6,238.7L71.1,237.2L70.6,235.2L70.1,232.8L69.8,230.3L69.7,227.7L69.7,225.3L69.8,223.3L70.1,221.7L70.5,220.7Z M93.9,220.3L94.1,220.7L94.5,221.7L94.8,223.3L94.9,225.3L94.9,227.7L94.8,230.3L94.5,232.8L94.0,235.2L93.5,237.2L93.0,238.7L92.6,239.6L92.3,240.0L92.1,239.6L91.8,238.6L91.5,237.0L91.4,234.9L91.3,232.6L91.4,230.0L91.7,227.5L92.1,225.1L92.5,223.1L93.1,221.6L93.6,220.6Z M66.1,220.8L66.4,221.1L67.0,222.0L67.5,223.5L68.1,225.5L68.6,227.8L68.9,230.4L69.1,232.9L69.1,235.3L69.0,237.4L68.8,239.0L68.5,240.0L68.3,240.3L68.0,240.0L67.5,239.1L67.0,237.6L66.4,235.6L65.9,233.3L65.5,230.7L65.3,228.2L65.2,225.8L65.3,223.8L65.6,222.2L65.9,221.1Z M98.5,220.8L98.7,221.1L99.0,222.2L99.3,223.8L99.4,225.8L99.3,228.2L99.1,230.7L98.7,233.3L98.2,235.6L97.6,237.6L97.1,239.1L96.6,240.0L96.3,240.3L96.1,240.0L95.8,239.0L95.6,237.4L95.5,235.3L95.5,232.9L95.7,230.4L96.0,227.8L96.5,225.5L97.1,223.5L97.6,222.0L98.2,221.1Z M61.5,221.4L61.8,221.6L62.4,222.6L63.0,224.1L63.6,226.0L64.2,228.4L64.6,230.9L64.9,233.4L65.0,235.8L64.9,237.9L64.8,239.5L64.5,240.5L64.3,240.8L64.0,240.6L63.5,239.6L62.9,238.1L62.3,236.2L61.7,233.9L61.3,231.4L60.9,228.8L60.8,226.4L60.8,224.4L61.0,222.8L61.3,221.7Z M103.1,221.4L103.3,221.7L103.6,222.8L103.8,224.4L103.8,226.4L103.7,228.8L103.3,231.4L102.9,233.9L102.3,236.2L101.7,238.1L101.1,239.6L100.6,240.6L100.3,240.8L100.1,240.5L99.8,239.5L99.7,237.9L99.6,235.8L99.7,233.4L100.0,230.9L100.4,228.4L101.0,226.0L101.6,224.1L102.2,222.6L102.8,221.6Z M56.9,222.1L57.3,222.4L57.9,223.3L58.5,224.7L59.2,226.7L59.8,229.0L60.3,231.5L60.7,234.0L60.8,236.4L60.9,238.5L60.8,240.1L60.6,241.1L60.4,241.5L60.1,241.2L59.5,240.3L58.9,238.8L58.2,236.9L57.6,234.6L57.0,232.1L56.6,229.6L56.4,227.2L56.3,225.1L56.5,223.5L56.7,222.5Z M107.7,222.1L107.9,222.5L108.1,223.5L108.3,225.1L108.2,227.2L108.0,229.6L107.6,232.1L107.0,234.6L106.4,236.9L105.7,238.8L105.1,240.3L104.5,241.2L104.2,241.5L104.0,241.1L103.8,240.1L103.7,238.5L103.8,236.4L103.9,234.0L104.3,231.5L104.8,229.0L105.4,226.7L106.1,224.7L106.7,223.3L107.3,222.4Z M52.4,223.0L52.7,223.2L53.3,224.1L54.1,225.6L54.8,227.5L55.5,229.8L56.1,232.3L56.5,234.8L56.7,237.2L56.8,239.2L56.8,240.8L56.6,241.9L56.5,242.3L56.1,242.0L55.6,241.1L54.9,239.6L54.1,237.7L53.4,235.4L52.8,233.0L52.3,230.5L52.0,228.1L51.9,226.0L52.0,224.4L52.2,223.4Z M112.2,223.0L112.4,223.4L112.6,224.4L112.7,226.0L112.6,228.1L112.3,230.5L111.8,233.0L111.2,235.4L110.5,237.7L109.7,239.6L109.0,241.1L108.5,242.0L108.1,242.3L108.0,241.9L107.8,240.8L107.8,239.2L107.9,237.2L108.1,234.8L108.5,232.3L109.1,229.8L109.8,227.5L110.5,225.6L111.3,224.1L111.9,223.2Z M47.9,224.0L48.2,224.3L48.9,225.1L49.6,226.6L50.4,228.5L51.2,230.7L51.8,233.2L52.3,235.7L52.7,238.1L52.8,240.1L52.8,241.7L52.7,242.8L52.6,243.1L52.2,242.9L51.6,242.0L50.9,240.6L50.1,238.7L49.3,236.4L48.6,234.0L48.0,231.5L47.6,229.1L47.5,227.1L47.5,225.5L47.7,224.4Z M116.7,224.0L116.9,224.4L117.1,225.5L117.1,227.1L117.0,229.1L116.6,231.5L116.0,234.0L115.3,236.4L114.5,238.7L113.7,240.6L113.0,242.0L112.4,242.9L112.0,243.1L111.9,242.8L111.8,241.7L111.8,240.1L111.9,238.1L112.3,235.7L112.8,233.2L113.4,230.7L114.2,228.5L115.0,226.6L115.7,225.1L116.4,224.3Z M43.4,225.2L43.7,225.4L44.4,226.3L45.2,227.7L46.1,229.6L46.9,231.8L47.7,234.2L48.2,236.7L48.6,239.1L48.9,241.1L48.9,242.7L48.8,243.8L48.7,244.2L48.3,243.9L47.7,243.1L46.9,241.7L46.1,239.8L45.2,237.6L44.4,235.1L43.8,232.7L43.3,230.3L43.1,228.3L43.1,226.7L43.2,225.6Z M121.2,225.2L121.4,225.6L121.5,226.7L121.5,228.3L121.3,230.3L120.8,232.7L120.2,235.1L119.4,237.6L118.5,239.8L117.7,241.7L116.9,243.1L116.3,243.9L115.9,244.2L115.8,243.8L115.7,242.7L115.7,241.1L116.0,239.1L116.4,236.7L116.9,234.2L117.7,231.8L118.5,229.6L119.4,227.7L120.2,226.3L120.9,225.4Z M38.9,226.5L39.3,226.7L40.0,227.6L40.9,228.9L41.8,230.8L42.7,233.0L43.5,235.4L44.2,237.9L44.6,240.2L44.9,242.3L45.0,243.9L45.0,244.9L44.8,245.3L44.5,245.1L43.9,244.2L43.0,242.9L42.1,241.0L41.1,238.8L40.3,236.4L39.6,234.0L39.0,231.6L38.7,229.6L38.7,228.0L38.8,226.9Z M125.7,226.5L125.8,226.9L125.9,228.0L125.9,229.6L125.6,231.6L125.0,234.0L124.3,236.4L123.5,238.8L122.5,241.0L121.6,242.9L120.7,244.2L120.1,245.1L119.8,245.3L119.6,244.9L119.6,243.9L119.7,242.3L120.0,240.2L120.4,237.9L121.1,235.4L121.9,233.0L122.8,230.8L123.7,228.9L124.6,227.6L125.3,226.7Z M34.5,228.0L34.9,228.2L35.6,229.0L36.5,230.3L37.5,232.2L38.5,234.3L39.4,236.7L40.1,239.2L40.7,241.5L41.0,243.5L41.2,245.1L41.2,246.2L41.0,246.6L40.7,246.3L40.0,245.5L39.1,244.2L38.2,242.4L37.1,240.2L36.2,237.8L35.4,235.4L34.8,233.1L34.4,231.1L34.3,229.5L34.4,228.4Z M130.1,228.0L130.2,228.4L130.3,229.5L130.2,231.1L129.8,233.1L129.2,235.4L128.4,237.8L127.5,240.2L126.4,242.4L125.5,244.2L124.6,245.5L123.9,246.3L123.6,246.6L123.4,246.2L123.4,245.1L123.6,243.5L123.9,241.5L124.5,239.2L125.2,236.7L126.1,234.3L127.1,232.2L128.1,230.3L129.0,229.0L129.7,228.2Z M30.2,229.6L30.6,229.8L31.3,230.6L32.3,231.9L33.3,233.7L34.3,235.8L35.3,238.2L36.1,240.6L36.8,242.9L37.2,244.9L37.4,246.5L37.4,247.5L37.3,247.9L36.9,247.7L36.2,246.9L35.3,245.6L34.3,243.8L33.2,241.7L32.2,239.4L31.3,237.0L30.6,234.7L30.2,232.7L30.0,231.1L30.0,230.0Z M134.4,229.6L134.6,230.0L134.6,231.1L134.4,232.7L134.0,234.7L133.3,237.0L132.4,239.4L131.4,241.7L130.3,243.8L129.3,245.6L128.4,246.9L127.7,247.7L127.3,247.9L127.2,247.5L127.2,246.5L127.4,244.9L127.8,242.9L128.5,240.6L129.3,238.2L130.3,235.8L131.3,233.7L132.3,231.9L133.3,230.6L134.0,229.8Z M145.3,234.3L144.8,234.4L144.0,235.1L142.9,236.4L141.7,238.0L140.3,240.0L138.8,242.1L137.4,244.3L136.1,246.3L134.9,248.0L133.9,249.3L133.1,250.0L132.7,250.2L132.8,249.8L133.2,249.0L133.8,247.5L134.7,245.7L135.6,243.5L136.7,241.2L137.7,238.8L138.7,236.7L139.5,234.8L140.2,233.4L140.6,232.5L140.7,232.2 M140.7,232.2L140.2,232.3L139.4,233.1L138.4,234.3L137.3,236.0L136.0,238.1L134.6,240.3L133.3,242.5L132.1,244.5L130.9,246.3L130.0,247.6L129.3,248.4L128.9,248.6 M19.3,234.3L19.8,234.4L20.6,235.1L21.7,236.4L22.9,238.0L24.3,240.0L25.8,242.1L27.2,244.3L28.5,246.3L29.7,248.0L30.7,249.3L31.5,250.0L31.9,250.2L31.8,249.8L31.4,249.0L30.8,247.5L29.9,245.7L29.0,243.5L27.9,241.2L26.9,238.8L25.9,236.7L25.1,234.8L24.4,233.4L24.0,232.5L23.9,232.2 M23.9,232.2L24.4,232.3L25.2,233.1L26.2,234.3L27.3,236.0L28.6,238.1L30.0,240.3L31.3,242.5L32.5,244.5L33.7,246.3L34.6,247.6L35.3,248.4L35.7,248.6" fill="none" stroke="#000" stroke-width="1.4" stroke-linejoin="round" stroke-linecap="round"/></g>
<ellipse cx="303.8" cy="277" rx="48.9" ry="35" fill="#FF8000" transform="rotate(2 303.8 277)"/>
<line x1="376.30" y1="281.40" x2="356.70" y2="257.64" stroke="#00F6FF" stroke-width="1.7"/><polygon points="353.20,253.40 362.79,257.80 357.34,258.41 355.70,263.66" fill="#00F6FF"/>
<polygon points="396.10,293.40 390.60,302.93 379.60,302.93 374.10,293.40 379.60,283.87 390.60,283.87" fill="#00F6FF"/>
<polygon points="390.80,222.70 394.60,222.70 398.50,227.20 394.60,231.70 390.80,231.70 394.70,227.20" fill="#8000FF"/>
<polygon points="399.40,222.70 403.20,222.70 407.10,227.20 403.20,231.70 399.40,231.70 403.30,227.20" fill="#8000FF"/>
<polygon points="408.00,222.70 411.80,222.70 415.70,227.20 411.80,231.70 408.00,231.70 411.90,227.20" fill="#8000FF"/>
<polygon points="416.60,222.70 420.40,222.70 424.30,227.20 420.40,231.70 416.60,231.70 420.50,227.20" fill="#8000FF"/>
<polygon points="425.20,222.70 429.00,222.70 432.90,227.20 429.00,231.70 425.20,231.70 429.10,227.20" fill="#8000FF"/>
<g transform="translate(441.6,-5.3)"><path d="M80.0,219.9L80.3,220.2L80.7,221.2L81.1,222.7L81.5,224.8L81.7,227.2L81.8,229.7L81.8,232.3L81.6,234.6L81.3,236.7L80.9,238.2L80.5,239.2L80.3,239.6L80.0,239.2L79.7,238.3L79.3,236.7L78.9,234.7L78.6,232.3L78.5,229.8L78.5,227.2L78.6,224.8L78.9,222.8L79.3,221.2L79.7,220.2Z M84.6,219.9L84.9,220.2L85.3,221.2L85.7,222.8L86.0,224.8L86.1,227.2L86.1,229.8L86.0,232.3L85.7,234.7L85.3,236.7L84.9,238.3L84.6,239.2L84.3,239.6L84.1,239.2L83.7,238.2L83.3,236.7L83.0,234.6L82.8,232.3L82.8,229.7L82.9,227.2L83.1,224.8L83.5,222.7L83.9,221.2L84.3,220.2Z M75.3,220.0L75.7,220.3L76.1,221.3L76.6,222.8L77.0,224.9L77.3,227.2L77.5,229.8L77.5,232.3L77.4,234.7L77.2,236.8L76.8,238.3L76.5,239.3L76.3,239.7L76.0,239.4L75.6,238.4L75.2,236.9L74.7,234.8L74.4,232.5L74.1,229.9L74.1,227.4L74.1,225.0L74.4,223.0L74.7,221.4L75.1,220.4Z M89.3,220.0L89.5,220.4L89.9,221.4L90.2,223.0L90.5,225.0L90.5,227.4L90.5,229.9L90.2,232.5L89.9,234.8L89.4,236.9L89.0,238.4L88.6,239.4L88.3,239.7L88.1,239.3L87.8,238.3L87.4,236.8L87.2,234.7L87.1,232.3L87.1,229.8L87.3,227.2L87.6,224.9L88.0,222.8L88.5,221.3L88.9,220.3Z M70.7,220.3L71.0,220.6L71.5,221.6L72.1,223.1L72.5,225.1L72.9,227.5L73.2,230.0L73.3,232.6L73.2,234.9L73.1,237.0L72.8,238.6L72.5,239.6L72.3,240.0L72.0,239.6L71.6,238.7L71.1,237.2L70.6,235.2L70.1,232.8L69.8,230.3L69.7,227.7L69.7,225.3L69.8,223.3L70.1,221.7L70.5,220.7Z M93.9,220.3L94.1,220.7L94.5,221.7L94.8,223.3L94.9,225.3L94.9,227.7L94.8,230.3L94.5,232.8L94.0,235.2L93.5,237.2L93.0,238.7L92.6,239.6L92.3,240.0L92.1,239.6L91.8,238.6L91.5,237.0L91.4,234.9L91.3,232.6L91.4,230.0L91.7,227.5L92.1,225.1L92.5,223.1L93.1,221.6L93.6,220.6Z M66.1,220.8L66.4,221.1L67.0,222.0L67.5,223.5L68.1,225.5L68.6,227.8L68.9,230.4L69.1,232.9L69.1,235.3L69.0,237.4L68.8,239.0L68.5,240.0L68.3,240.3L68.0,240.0L67.5,239.1L67.0,237.6L66.4,235.6L65.9,233.3L65.5,230.7L65.3,228.2L65.2,225.8L65.3,223.8L65.6,222.2L65.9,221.1Z M98.5,220.8L98.7,221.1L99.0,222.2L99.3,223.8L99.4,225.8L99.3,228.2L99.1,230.7L98.7,233.3L98.2,235.6L97.6,237.6L97.1,239.1L96.6,240.0L96.3,240.3L96.1,240.0L95.8,239.0L95.6,237.4L95.5,235.3L95.5,232.9L95.7,230.4L96.0,227.8L96.5,225.5L97.1,223.5L97.6,222.0L98.2,221.1Z M61.5,221.4L61.8,221.6L62.4,222.6L63.0,224.1L63.6,226.0L64.2,228.4L64.6,230.9L64.9,233.4L65.0,235.8L64.9,237.9L64.8,239.5L64.5,240.5L64.3,240.8L64.0,240.6L63.5,239.6L62.9,238.1L62.3,236.2L61.7,233.9L61.3,231.4L60.9,228.8L60.8,226.4L60.8,224.4L61.0,222.8L61.3,221.7Z M103.1,221.4L103.3,221.7L103.6,222.8L103.8,224.4L103.8,226.4L103.7,228.8L103.3,231.4L102.9,233.9L102.3,236.2L101.7,238.1L101.1,239.6L100.6,240.6L100.3,240.8L100.1,240.5L99.8,239.5L99.7,237.9L99.6,235.8L99.7,233.4L100.0,230.9L100.4,228.4L101.0,226.0L101.6,224.1L102.2,222.6L102.8,221.6Z M56.9,222.1L57.3,222.4L57.9,223.3L58.5,224.7L59.2,226.7L59.8,229.0L60.3,231.5L60.7,234.0L60.8,236.4L60.9,238.5L60.8,240.1L60.6,241.1L60.4,241.5L60.1,241.2L59.5,240.3L58.9,238.8L58.2,236.9L57.6,234.6L57.0,232.1L56.6,229.6L56.4,227.2L56.3,225.1L56.5,223.5L56.7,222.5Z M107.7,222.1L107.9,222.5L108.1,223.5L108.3,225.1L108.2,227.2L108.0,229.6L107.6,232.1L107.0,234.6L106.4,236.9L105.7,238.8L105.1,240.3L104.5,241.2L104.2,241.5L104.0,241.1L103.8,240.1L103.7,238.5L103.8,236.4L103.9,234.0L104.3,231.5L104.8,229.0L105.4,226.7L106.1,224.7L106.7,223.3L107.3,222.4Z M52.4,223.0L52.7,223.2L53.3,224.1L54.1,225.6L54.8,227.5L55.5,229.8L56.1,232.3L56.5,234.8L56.7,237.2L56.8,239.2L56.8,240.8L56.6,241.9L56.5,242.3L56.1,242.0L55.6,241.1L54.9,239.6L54.1,237.7L53.4,235.4L52.8,233.0L52.3,230.5L52.0,228.1L51.9,226.0L52.0,224.4L52.2,223.4Z M112.2,223.0L112.4,223.4L112.6,224.4L112.7,226.0L112.6,228.1L112.3,230.5L111.8,233.0L111.2,235.4L110.5,237.7L109.7,239.6L109.0,241.1L108.5,242.0L108.1,242.3L108.0,241.9L107.8,240.8L107.8,239.2L107.9,237.2L108.1,234.8L108.5,232.3L109.1,229.8L109.8,227.5L110.5,225.6L111.3,224.1L111.9,223.2Z M47.9,224.0L48.2,224.3L48.9,225.1L49.6,226.6L50.4,228.5L51.2,230.7L51.8,233.2L52.3,235.7L52.7,238.1L52.8,240.1L52.8,241.7L52.7,242.8L52.6,243.1L52.2,242.9L51.6,242.0L50.9,240.6L50.1,238.7L49.3,236.4L48.6,234.0L48.0,231.5L47.6,229.1L47.5,227.1L47.5,225.5L47.7,224.4Z M116.7,224.0L116.9,224.4L117.1,225.5L117.1,227.1L117.0,229.1L116.6,231.5L116.0,234.0L115.3,236.4L114.5,238.7L113.7,240.6L113.0,242.0L112.4,242.9L112.0,243.1L111.9,242.8L111.8,241.7L111.8,240.1L111.9,238.1L112.3,235.7L112.8,233.2L113.4,230.7L114.2,228.5L115.0,226.6L115.7,225.1L116.4,224.3Z M43.4,225.2L43.7,225.4L44.4,226.3L45.2,227.7L46.1,229.6L46.9,231.8L47.7,234.2L48.2,236.7L48.6,239.1L48.9,241.1L48.9,242.7L48.8,243.8L48.7,244.2L48.3,243.9L47.7,243.1L46.9,241.7L46.1,239.8L45.2,237.6L44.4,235.1L43.8,232.7L43.3,230.3L43.1,228.3L43.1,226.7L43.2,225.6Z M121.2,225.2L121.4,225.6L121.5,226.7L121.5,228.3L121.3,230.3L120.8,232.7L120.2,235.1L119.4,237.6L118.5,239.8L117.7,241.7L116.9,243.1L116.3,243.9L115.9,244.2L115.8,243.8L115.7,242.7L115.7,241.1L116.0,239.1L116.4,236.7L116.9,234.2L117.7,231.8L118.5,229.6L119.4,227.7L120.2,226.3L120.9,225.4Z M38.9,226.5L39.3,226.7L40.0,227.6L40.9,228.9L41.8,230.8L42.7,233.0L43.5,235.4L44.2,237.9L44.6,240.2L44.9,242.3L45.0,243.9L45.0,244.9L44.8,245.3L44.5,245.1L43.9,244.2L43.0,242.9L42.1,241.0L41.1,238.8L40.3,236.4L39.6,234.0L39.0,231.6L38.7,229.6L38.7,228.0L38.8,226.9Z M125.7,226.5L125.8,226.9L125.9,228.0L125.9,229.6L125.6,231.6L125.0,234.0L124.3,236.4L123.5,238.8L122.5,241.0L121.6,242.9L120.7,244.2L120.1,245.1L119.8,245.3L119.6,244.9L119.6,243.9L119.7,242.3L120.0,240.2L120.4,237.9L121.1,235.4L121.9,233.0L122.8,230.8L123.7,228.9L124.6,227.6L125.3,226.7Z M34.5,228.0L34.9,228.2L35.6,229.0L36.5,230.3L37.5,232.2L38.5,234.3L39.4,236.7L40.1,239.2L40.7,241.5L41.0,243.5L41.2,245.1L41.2,246.2L41.0,246.6L40.7,246.3L40.0,245.5L39.1,244.2L38.2,242.4L37.1,240.2L36.2,237.8L35.4,235.4L34.8,233.1L34.4,231.1L34.3,229.5L34.4,228.4Z M130.1,228.0L130.2,228.4L130.3,229.5L130.2,231.1L129.8,233.1L129.2,235.4L128.4,237.8L127.5,240.2L126.4,242.4L125.5,244.2L124.6,245.5L123.9,246.3L123.6,246.6L123.4,246.2L123.4,245.1L123.6,243.5L123.9,241.5L124.5,239.2L125.2,236.7L126.1,234.3L127.1,232.2L128.1,230.3L129.0,229.0L129.7,228.2Z M30.2,229.6L30.6,229.8L31.3,230.6L32.3,231.9L33.3,233.7L34.3,235.8L35.3,238.2L36.1,240.6L36.8,242.9L37.2,244.9L37.4,246.5L37.4,247.5L37.3,247.9L36.9,247.7L36.2,246.9L35.3,245.6L34.3,243.8L33.2,241.7L32.2,239.4L31.3,237.0L30.6,234.7L30.2,232.7L30.0,231.1L30.0,230.0Z M134.4,229.6L134.6,230.0L134.6,231.1L134.4,232.7L134.0,234.7L133.3,237.0L132.4,239.4L131.4,241.7L130.3,243.8L129.3,245.6L128.4,246.9L127.7,247.7L127.3,247.9L127.2,247.5L127.2,246.5L127.4,244.9L127.8,242.9L128.5,240.6L129.3,238.2L130.3,235.8L131.3,233.7L132.3,231.9L133.3,230.6L134.0,229.8Z M145.3,234.3L144.8,234.4L144.0,235.1L142.9,236.4L141.7,238.0L140.3,240.0L138.8,242.1L137.4,244.3L136.1,246.3L134.9,248.0L133.9,249.3L133.1,250.0L132.7,250.2L132.8,249.8L133.2,249.0L133.8,247.5L134.7,245.7L135.6,243.5L136.7,241.2L137.7,238.8L138.7,236.7L139.5,234.8L140.2,233.4L140.6,232.5L140.7,232.2 M140.7,232.2L140.2,232.3L139.4,233.1L138.4,234.3L137.3,236.0L136.0,238.1L134.6,240.3L133.3,242.5L132.1,244.5L130.9,246.3L130.0,247.6L129.3,248.4L128.9,248.6 M19.3,234.3L19.8,234.4L20.6,235.1L21.7,236.4L22.9,238.0L24.3,240.0L25.8,242.1L27.2,244.3L28.5,246.3L29.7,248.0L30.7,249.3L31.5,250.0L31.9,250.2L31.8,249.8L31.4,249.0L30.8,247.5L29.9,245.7L29.0,243.5L27.9,241.2L26.9,238.8L25.9,236.7L25.1,234.8L24.4,233.4L24.0,232.5L23.9,232.2 M23.9,232.2L24.4,232.3L25.2,233.1L26.2,234.3L27.3,236.0L28.6,238.1L30.0,240.3L31.3,242.5L32.5,244.5L33.7,246.3L34.6,247.6L35.3,248.4L35.7,248.6" fill="none" stroke="#000" stroke-width="1.4" stroke-linejoin="round" stroke-linecap="round"/></g>
<polygon points="470.6,226.7 473.1,229.4 477.5,223.0 477.3,230.5 482.3,228.3 479.8,232.8 485.7,233.3 480.7,236.2 486.6,239.4 479.8,239.9 481.7,245.0 477.3,242.2 475.7,247.4 473.1,243.0 469.9,250.3 469.1,242.5 464.9,245.0 466.3,241.1 459.3,240.8 464.6,237.1 459.3,233.9 464.9,233.7 458.7,225.3 467.4,230.5" fill="#FF1419"/>
<polygon points="498.2,215.6 500.7,218.3 505.1,211.9 504.9,219.4 509.9,217.2 507.4,221.7 513.3,222.2 508.3,225.1 514.2,228.3 507.4,228.8 509.3,233.9 504.9,231.1 503.3,236.3 500.7,231.9 497.5,239.2 496.7,231.4 492.5,233.9 493.9,230.0 486.9,229.7 492.2,226.0 486.9,222.8 492.5,222.6 486.3,214.2 495.0,219.4" fill="#FF1419"/>
<polygon points="528.9,215.7 531.4,218.4 535.8,212.0 535.6,219.5 540.6,217.3 538.1,221.8 544.0,222.3 539.0,225.2 544.9,228.4 538.1,228.9 540.0,234.0 535.6,231.2 534.0,236.4 531.4,232.0 528.2,239.3 527.4,231.5 523.2,234.0 524.6,230.1 517.6,229.8 522.9,226.1 517.6,222.9 523.2,222.7 517.0,214.3 525.7,219.5" fill="#FF1419"/>
<polygon points="569.3,227.0 571.8,229.7 576.2,223.3 576.0,230.8 581.0,228.6 578.5,233.1 584.4,233.6 579.4,236.5 585.3,239.7 578.5,240.2 580.4,245.3 576.0,242.5 574.4,247.7 571.8,243.3 568.6,250.6 567.8,242.8 563.6,245.3 565.0,241.4 558.0,241.1 563.3,237.4 558.0,234.2 563.6,234.0 557.4,225.6 566.1,230.8" fill="#FF1419"/>
<ellipse cx="523.5" cy="281.7" rx="48.8" ry="35.2" fill="#FF8000" transform="rotate(2 523.5 281.7)"/>
<rect x="88" y="333.3" width="453" height="30" fill="#fff" stroke="#000" stroke-width="1.2"/>
<path d="M95.8,350.3 Q117.3,339.3 138.8,350.8" fill="none" stroke="#505050" stroke-width="3.9"/><path d="M95.8,350.3 Q117.3,339.3 138.8,350.8" fill="none" stroke="#7a7a7a" stroke-width="1.5"/>
<text x="146.5" y="353.8" font-size="12.8">DNA</text>
<ellipse cx="230.8" cy="350.5" rx="13.2" ry="9.5" fill="#FF8000"/>
<text x="254.4" y="353.8" font-size="12.8">Protein</text>
<polygon points="361.70,350.10 358.00,356.51 350.60,356.51 346.90,350.10 350.60,343.69 358.00,343.69" fill="#00F6FF"/>
<text x="367.5" y="353.8" font-size="12.8">Mutagen</text>
<polygon points="471.7,343.4 473.5,345.4 476.6,340.9 476.5,346.1 480.0,344.6 478.2,347.7 482.3,348.0 478.8,350.1 483.0,352.3 478.2,352.7 479.5,356.3 476.5,354.3 475.4,357.9 473.5,354.9 471.3,360.0 470.7,354.5 467.8,356.3 468.7,353.5 463.9,353.3 467.6,350.7 463.9,348.5 467.8,348.3 463.4,342.4 469.5,346.1" fill="#FF1419"/>
<text x="486" y="353.8" font-size="12.8">Mutation</text>
<text transform="translate(0.7,452.5) scale(0.97,1)" font-size="14.8" font-weight="bold" style="stroke-width:0">B</text>
<text x="170.5" y="469.3" font-size="12.9" text-anchor="middle">All cancer types</text>
<path d="M72,483.5 V607.4 H252.6" fill="none" stroke="#000" stroke-width="1.8"/>
<text x="72.6" y="625.8" font-size="12.9">Smaller</text>
<text x="247.7" y="625.8" font-size="12.9" text-anchor="end">Greater</text>
<text x="160" y="651.5" font-size="12.9" text-anchor="middle">Intrinsic DNA curvature</text>
<text transform="translate(38.5,540.4) rotate(-90)" font-size="12.9" text-anchor="middle">Mutation rate</text>
<text transform="translate(63.5,487.8) rotate(-90)" font-size="12.9" text-anchor="middle">Higher</text>
<text transform="translate(63.5,585.4) rotate(-90)" font-size="12.9" text-anchor="middle">Lower</text>
<line x1="84" y1="499" x2="250" y2="567" stroke="#00F6FF" stroke-width="2.2"/>
<line x1="84" y1="580.3" x2="251" y2="580.3" stroke="#4B14FF" stroke-width="2.2"/>
<text x="260" y="571" font-size="12.9" fill="#00F6FF" style="stroke:#00F6FF">C&gt;T</text>
<text x="260" y="583.6" font-size="12.9" fill="#4B14FF" style="stroke:#4B14FF">Others</text>
<text x="460.8" y="469.3" font-size="12.9" text-anchor="middle">Lung cancer</text>
<path d="M372.3,483.5 V607.4 H552.9" fill="none" stroke="#000" stroke-width="1.8"/>
<text x="372.90000000000003" y="625.8" font-size="12.9">Smaller</text>
<text x="548.0" y="625.8" font-size="12.9" text-anchor="end">Greater</text>
<text x="460.3" y="651.5" font-size="12.9" text-anchor="middle">Intrinsic DNA curvature</text>
<text transform="translate(338.8,540.4) rotate(-90)" font-size="12.9" text-anchor="middle">Mutation rate</text>
<text transform="translate(363.8,487.8) rotate(-90)" font-size="12.9" text-anchor="middle">Higher</text>
<text transform="translate(363.8,585.4) rotate(-90)" font-size="12.9" text-anchor="middle">Lower</text>
<line x1="385.5" y1="478.3" x2="551.4" y2="557.5" stroke="#14F000" stroke-width="2.2"/>
<line x1="385.5" y1="500" x2="551.4" y2="566.7" stroke="#00F6FF" stroke-width="2.2"/>
<line x1="385.5" y1="580.3" x2="551.4" y2="580.3" stroke="#4B14FF" stroke-width="2.2"/>
<text x="559.5" y="556" font-size="12.9" fill="#14F000" style="stroke:#14F000">C&gt;A</text>
<text x="560.6" y="570.7" font-size="12.9" fill="#00F6FF" style="stroke:#00F6FF">C&gt;T</text>
<text x="560.8" y="583.6" font-size="12.9" fill="#4B14FF" style="stroke:#4B14FF">Others</text>
</svg>
</body></html>
